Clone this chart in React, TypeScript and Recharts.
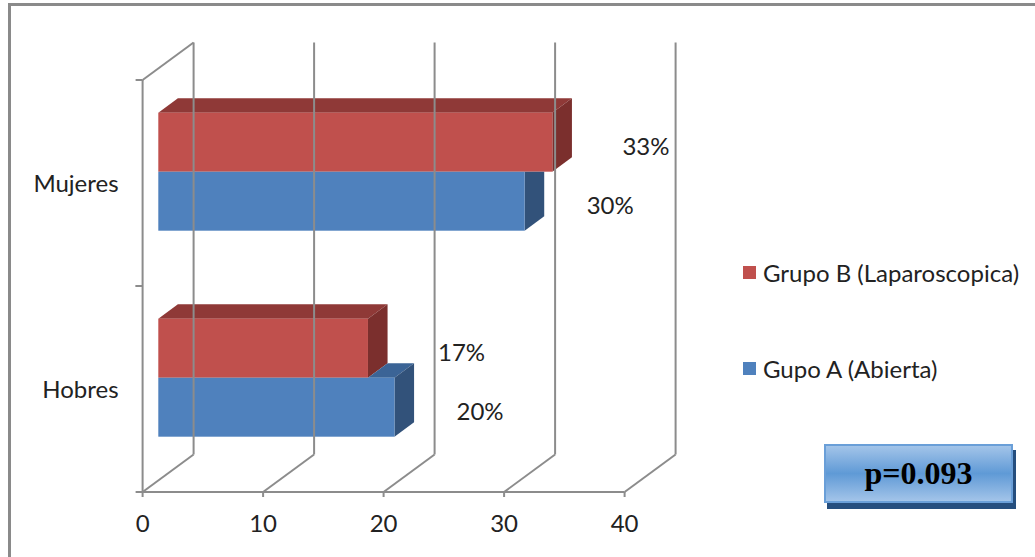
import { BarChart, Bar, XAxis, YAxis, Legend, LabelList } from "recharts";

// values (percent)
const categories = ["Mujeres", "Hobres"];
const grupoB = [32.7, 17.4]; // Laparoscopica
const grupoA = [30.4, 19.6]; // Abierta
const xTicks = [0, 10, 20, 30, 40];
const seriesNames = ["Grupo B (Laparoscopica)", "Gupo A (Abierta)"];
const pText = "p=0.093";

const data = categories.map((cat, i) => ({ cat, b: grupoB[i], a: grupoA[i] }));

const W = 1035;
const H = 557;
const FONT = "Lato, 'Open Sans', sans-serif";
const TEXT = "#222";
const GRID = "#8c8c8c";

// bar plane (the plot area recharts works in)
const PLOT_LEFT = 158.3;
const PLOT_RIGHT = 640.3;
const PLOT_TOP = 68.4;
const PLOT_BOTTOM = 480.4;
const Y_AXIS_W = 100;
const X_AXIS_H = 30;

// 3d offsets: front plane vs bar plane, back wall vs front plane, bar depth
const FRONT_DX = -15.7;
const FRONT_DY = 11.6;
const WALL_DX = 51;
const WALL_DY = -37.5;
const BAR_DX = 19.6;
const BAR_DY = -14.4;

const RED = { front: "#C0504D", top: "#8F3937", side: "#7B2F2D" };
const BLUE = { front: "#4F81BD", top: "#3B6496", side: "#32527A" };

function Prism({ x, y, w, h, c }: { x: number; y: number; w: number; h: number; c: typeof RED }) {
  return (
    <g>
      <polygon
        points={`${x},${y} ${x + BAR_DX},${y + BAR_DY} ${x + w + BAR_DX},${y + BAR_DY} ${x + w},${y}`}
        fill={c.top}
      />
      <polygon
        points={`${x + w},${y} ${x + w + BAR_DX},${y + BAR_DY} ${x + w + BAR_DX},${y + h + BAR_DY} ${x + w},${y + h}`}
        fill={c.side}
      />
      <rect x={x} y={y} width={w} height={h} fill={c.front} />
    </g>
  );
}

const redShape = (p: any) => <Prism x={p.x} y={p.y} w={p.width} h={p.height} c={RED} />;

// blue is painted after red, so hide whatever sits behind the red box
const blueShape = (p: any) => {
  const { x, y, width, height, payload, index } = p;
  const redEnd = x + (payload.b * width) / payload.a;
  const t = y - height;
  const id = `clip-blue-${index}`;
  const hole = `M${x} ${t} L${x + BAR_DX} ${t + BAR_DY} L${redEnd + BAR_DX} ${t + BAR_DY} L${redEnd + BAR_DX} ${y + BAR_DY} L${redEnd} ${y} L${x} ${y} Z`;
  return (
    <g>
      <defs>
        <clipPath id={id}>
          <path d={`M0 0 H${W} V${H} H0 Z ${hole}`} clipRule="evenodd" />
        </clipPath>
      </defs>
      <g clipPath={`url(#${id})`}>
        <Prism x={x} y={y} w={width} h={height} c={BLUE} />
      </g>
    </g>
  );
};

function XTick(props: any) {
  const { x, payload } = props;
  const fx = x + FRONT_DX;
  const fy = PLOT_BOTTOM + FRONT_DY;
  const bx = fx + WALL_DX;
  const by = fy + WALL_DY;
  const topY = PLOT_TOP + FRONT_DY + WALL_DY;
  const isZero = payload.value === 0;
  return (
    <g>
      <line x1={bx} y1={by} x2={bx} y2={topY} stroke={GRID} strokeWidth={2} />
      <line x1={fx} y1={fy} x2={bx} y2={by} stroke={GRID} strokeWidth={2} />
      <line x1={fx} y1={fy} x2={fx} y2={fy + 5} stroke={GRID} strokeWidth={2} />
      {isZero && (
        <>
          <line x1={fx} y1={fy} x2={fx + (PLOT_RIGHT - PLOT_LEFT)} y2={fy} stroke={GRID} strokeWidth={2} />
          <line x1={fx} y1={fy} x2={fx} y2={PLOT_TOP + FRONT_DY} stroke={GRID} strokeWidth={2} />
          <line
            x1={fx}
            y1={PLOT_TOP + FRONT_DY}
            x2={bx}
            y2={topY}
            stroke={GRID}
            strokeWidth={2}
          />
        </>
      )}
      <text x={fx} y={fy + 40} textAnchor="middle" fontFamily={FONT} fontSize={24} fill={TEXT}>
        {payload.value}
      </text>
    </g>
  );
}

function YTick(props: any) {
  const { y, payload } = props;
  const cy = y + FRONT_DY;
  const band = (PLOT_BOTTOM - PLOT_TOP) / categories.length;
  const fx = PLOT_LEFT + FRONT_DX;
  return (
    <g>
      <line x1={fx - 7} y1={cy - band / 2} x2={fx} y2={cy - band / 2} stroke={GRID} strokeWidth={2} />
      <line x1={fx - 7} y1={cy + band / 2} x2={fx} y2={cy + band / 2} stroke={GRID} strokeWidth={2} />
      <text
        x={fx - 24}
        y={cy}
        dy={9}
        textAnchor="end"
        fontFamily={FONT}
        fontSize={24}
        fill={TEXT}
      >
        {payload.value}
      </text>
    </g>
  );
}

function valueLabel(offset: number) {
  return (p: any) => {
    const { x, y, width, height, value } = p;
    return (
      <text
        x={x + width + BAR_DX + offset}
        y={y + height / 2 + 4}
        dy={9}
        textAnchor="middle"
        fontFamily={FONT}
        fontSize={24}
        fill={TEXT}
      >
        {`${Math.round(value)}%`}
      </text>
    );
  };
}

function LegendBox({ payload }: any) {
  const items = [...(payload || [])].sort(
    (a: any, b: any) => seriesNames.indexOf(a.value) - seriesNames.indexOf(b.value),
  );
  return (
    <div style={{ fontFamily: FONT, fontSize: 24, color: TEXT }}>
      {items.map((e: any, i: number) => (
        <div
          key={e.value}
          style={{
            display: "flex",
            alignItems: "center",
            height: 30,
            marginBottom: i === 0 ? 66 : 0,
            whiteSpace: "nowrap",
          }}
        >
          <span style={{ display: "inline-block", width: 13, height: 13, background: e.color, marginRight: 7 }} />
          {e.value}
        </div>
      ))}
    </div>
  );
}

export default function App() {
  return (
    <div style={{ position: "absolute", left: 0, top: 0, width: W, height: H, background: "#fff", overflow: "hidden" }}>
      <div
        style={{
          position: "absolute",
          left: 8,
          top: 3,
          width: W + 10,
          height: H + 10,
          borderTop: "3px solid #8a8a8a",
          borderLeft: "3px solid #8a8a8a",
        }}
      />
      <BarChart
        width={W}
        height={H}
        data={data}
        layout="vertical"
        barCategoryGap="21.5%"
        barGap={0}
        margin={{
          top: PLOT_TOP,
          right: W - PLOT_RIGHT,
          bottom: H - PLOT_BOTTOM - X_AXIS_H,
          left: PLOT_LEFT - Y_AXIS_W,
        }}
      >
        <XAxis
          type="number"
          domain={[0, 40]}
          ticks={xTicks}
          height={X_AXIS_H}
          axisLine={false}
          tickLine={false}
          tickSize={0}
          tick={<XTick />}
          interval={0}
        />
        <YAxis
          type="category"
          dataKey="cat"
          width={Y_AXIS_W}
          axisLine={false}
          tickLine={false}
          tickSize={0}
          tick={<YTick />}
        />
        <Legend
          layout="vertical"
          align="center"
          verticalAlign="middle"
          wrapperStyle={{ left: 743, top: 257, width: 292 }}
          content={<LegendBox />}
        />
        <Bar dataKey="b" name={seriesNames[0]} fill={RED.front} shape={redShape} isAnimationActive={false}>
          <LabelList dataKey="b" content={valueLabel(74)} />
        </Bar>
        <Bar dataKey="a" name={seriesNames[1]} fill={BLUE.front} shape={blueShape} isAnimationActive={false}>
          <LabelList dataKey="a" content={valueLabel(66)} />
        </Bar>
      </BarChart>
      <div
        style={{
          position: "absolute",
          left: 824,
          top: 444,
          width: 189,
          height: 59,
          boxSizing: "border-box",
          border: "2px solid #6A9FD8",
          background: "linear-gradient(to bottom, #A3C4E9 0%, #5F9AD6 50%, #A3C4E9 100%)",
          boxShadow: "3px 6px 0 #254E7E",
          display: "flex",
          alignItems: "center",
          justifyContent: "center",
          fontFamily: "'Liberation Serif', 'Times New Roman', serif",
          fontWeight: "bold",
          fontSize: 32,
          color: "#000",
        }}
      >
        {pText}
      </div>
    </div>
  );
}
